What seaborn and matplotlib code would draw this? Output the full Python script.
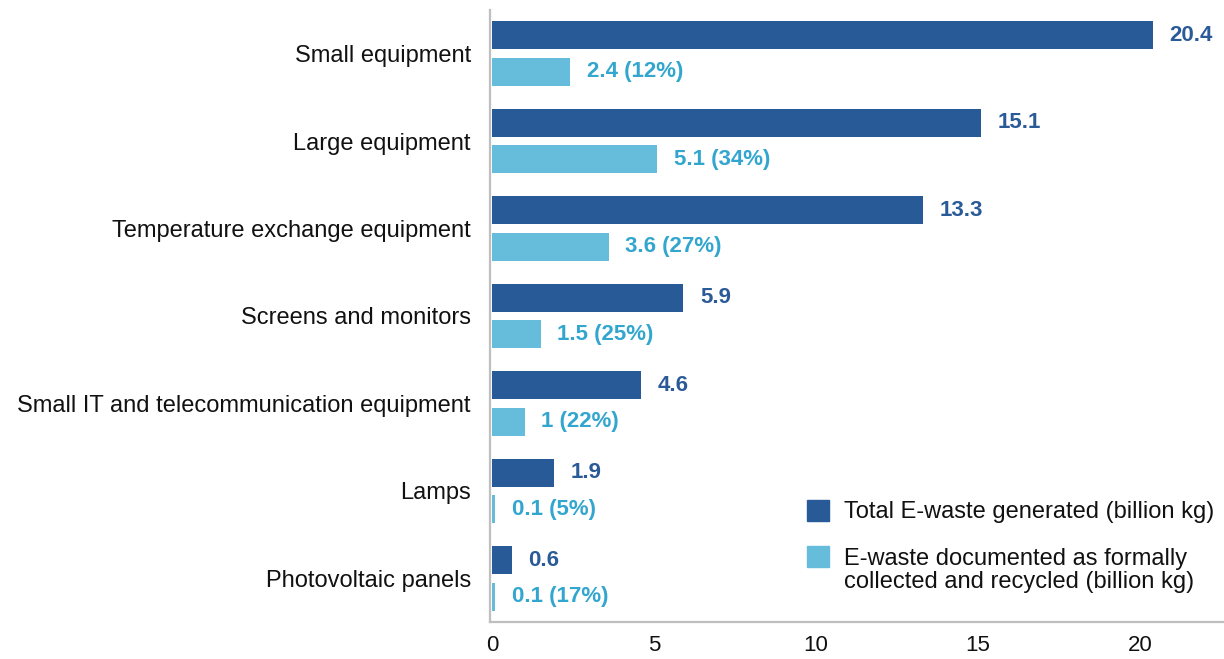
import pandas as pd
import matplotlib
matplotlib.use("Agg")
import matplotlib.pyplot as plt
from matplotlib.patches import Rectangle
import seaborn as sns

# data
categories = [
    "Small equipment", "Large equipment", "Temperature exchange equipment",
    "Screens and monitors", "Small IT and telecommunication equipment",
    "Lamps", "Photovoltaic panels",
]
generated = [20.4, 15.1, 13.3, 5.9, 4.6, 1.9, 0.6]
recycled = [2.4, 5.1, 3.6, 1.5, 1, 0.1, 0.1]
recycled_pct = [12, 34, 27, 25, 22, 5, 17]

series_names = [
    "Total E-waste generated (billion kg)",
    "E-waste documented as formally collected and recycled (billion kg)",
]
dark, light = "#285A98", "#65BDDB"

df = pd.DataFrame({
    "category": categories * 2,
    "value": generated + recycled,
    "series": [series_names[0]] * len(categories) + [series_names[1]] * len(categories),
})

sns.set_style("white")
plt.rcParams["font.family"] = ["Liberation Sans", "DejaVu Sans"]

fig, ax = plt.subplots(figsize=(12.24, 6.59), dpi=100)
fig.subplots_adjust(left=0.4005, right=1.0, top=0.985, bottom=0.056)

sns.barplot(data=df, y="category", x="value", hue="series", order=categories,
            hue_order=series_names, palette=[dark, light], orient="h",
            width=0.84, gap=0.24, saturation=1, legend=False,
            linewidth=0, ax=ax)

# value labels
ax.bar_label(ax.containers[0], labels=[f"{v:g}" for v in generated],
             padding=12, color="#2B5A98", fontsize=16, fontweight="bold")
ax.bar_label(ax.containers[1],
             labels=[f"{v:g} ({p}%)" for v, p in zip(recycled, recycled_pct)],
             padding=12, color="#33A6CF", fontsize=16, fontweight="bold")

ax.set_xlim(-0.06, 22.6)
ax.set_xticks([0, 5, 10, 15, 20])
ax.set_xlabel("")
ax.set_ylabel("")
sns.despine(ax=ax, top=True, right=True)
for side in ("left", "bottom"):
    ax.spines[side].set_color("#BFBFBF")
    ax.spines[side].set_linewidth(1.6)
ax.tick_params(axis="y", length=0, labelsize=17, labelcolor="#111111", pad=14)
ax.tick_params(axis="x", length=6, width=1.2, color="#BFBFBF", labelsize=16,
               labelcolor="#111111", pad=3)

# legend drawn by hand so the square sits on the first line of the text
W, H = 1224, 659
fig.add_artist(Rectangle((807 / W, 1 - 521 / H), 22 / W, 21 / H,
                         color=dark, transform=fig.transFigure))
fig.add_artist(Rectangle((807 / W, 1 - 567 / H), 22 / W, 21 / H,
                         color=light, transform=fig.transFigure))
fig.text(844 / W, 1 - 518 / H, series_names[0], fontsize=17,
         color="#111111", va="baseline")
fig.text(844 / W, 1 - 565 / H, "E-waste documented as formally", fontsize=17,
         color="#111111", va="baseline")
fig.text(844 / W, 1 - 588 / H, "collected and recycled (billion kg)", fontsize=17,
         color="#111111", va="baseline")

fig.savefig("out.png", dpi=100)
